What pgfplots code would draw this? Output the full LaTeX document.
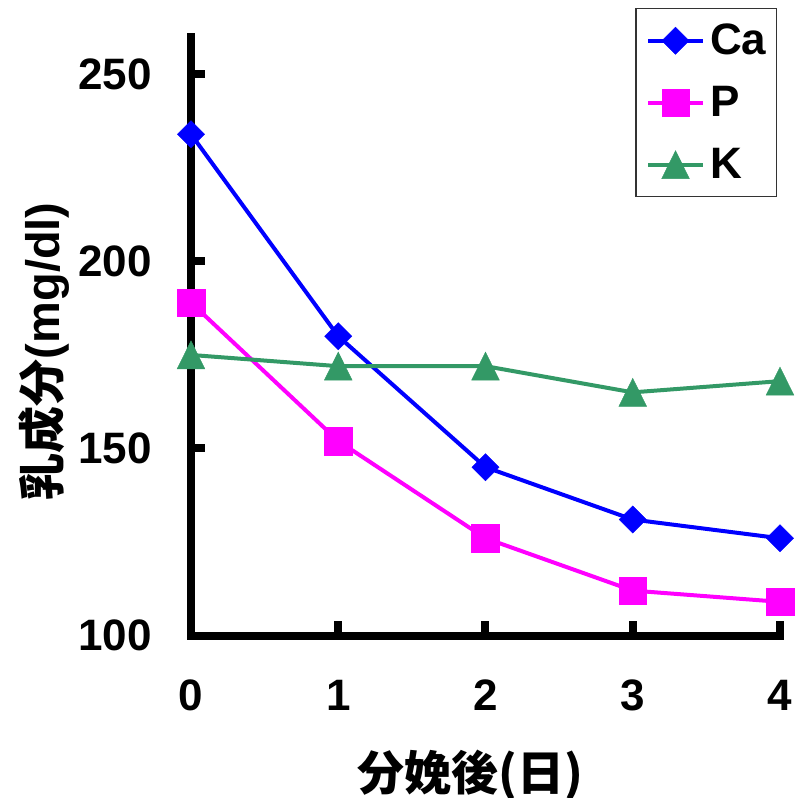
\documentclass[border=0pt]{standalone}
\usepackage{fontspec}
\setmainfont{Liberation Sans}
\newfontfamily\jp{Noto Sans CJK JP}
\usepackage{pgfplots}
\pgfplotsset{compat=1.18}
\definecolor{cablue}{RGB}{0,0,255}
\definecolor{pmag}{RGB}{255,0,255}
\definecolor{kgreen}{RGB}{51,153,102}
\begin{document}
\begin{tikzpicture}
\useasboundingbox (-95.5pt,-81.25pt) rectangle (306.5pt,317.75pt);
\begin{axis}[
  at={(0,0)}, anchor=south west,
  scale only axis, width=294.5pt, height=299.25pt,
  xmin=0, xmax=4, ymin=100, ymax=260,
  axis x line=bottom, axis y line=left,
  axis line style={-, line width=4pt, line cap=rect},
  xtick={0,1,2,3,4}, ytick={100,150,200,250},
  tick align=inside, major tick length=7pt,
  tick style={line width=4pt, black},
  clip=false,
  /pgf/number format/assume math mode=true,
  tick label style={font=\fontsize{22}{22}\selectfont\bfseries, inner sep=0pt},
  xticklabel style={anchor=center, yshift=-30pt},
  yticklabel style={anchor=east, xshift=-19.5pt},
  xlabel={\jp\bfseries 分娩後(日)},
  ylabel={{\jp\bfseries 乳成分}\bfseries(mg/dl)},
  label style={font=\fontsize{23.5}{23.5}\selectfont},
  xlabel style={at={(axis description cs:0.474,-0.2331)}, anchor=center},
  ylabel style={at={(axis description cs:-0.2496,0.475)}, anchor=center, rotate=0},
  legend style={at={(axis description cs:0.995,1.0485)}, anchor=north east,
    draw=black!80, line width=0.75pt, fill=white,
    inner xsep=5pt, inner ysep=0.5pt, row sep=0pt, column sep=2.5pt,
    font=\fontsize{22}{22}\selectfont\bfseries,
    nodes={inner sep=0pt, minimum height=31pt, anchor=west}},
  legend cell align=left,
  legend image code/.code={\draw[mark repeat=2, mark phase=2] plot coordinates {(0pt,0pt) (13.75pt,0pt) (27.5pt,0pt)};},
]
\addplot[cablue, line width=2pt, mark=square*, mark size=4.8pt,
  mark options={rotate=45, line width=0.2pt, fill=cablue}]
  coordinates {(0,234) (1,180) (2,145) (3,131) (4,126)};
\addlegendentry{Ca}
\addplot[pmag, line width=2pt, mark=square*, mark size=6.9pt,
  mark options={line width=0.2pt, fill=pmag}]
  coordinates {(0,189) (1,152) (2,126) (3,112) (4,109)};
\addlegendentry{P}
\addplot[kgreen, line width=2pt, mark=triangle*, mark size=8pt,
  mark options={yshift=-2.3pt, yscale=1.17, line width=0.2pt, fill=kgreen}]
  coordinates {(0,175) (1,172) (2,172) (3,165) (4,168)};
\addlegendentry{K}
\end{axis}
\end{tikzpicture}
\end{document}
